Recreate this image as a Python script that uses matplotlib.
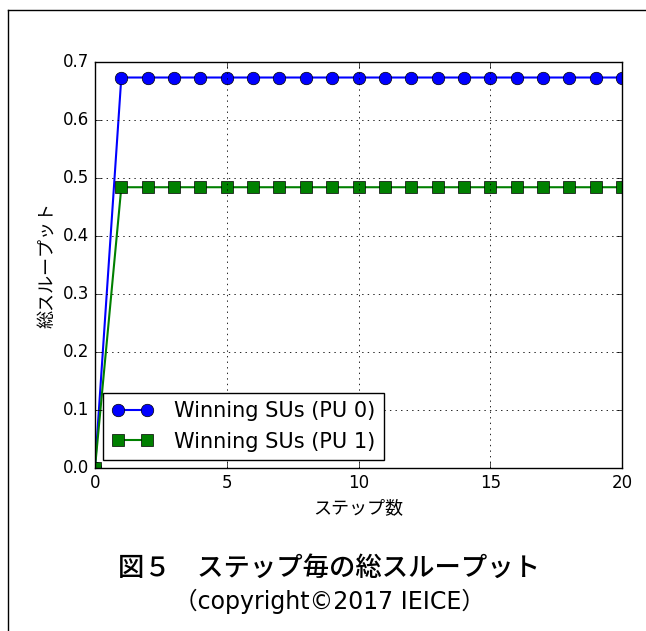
import matplotlib
matplotlib.use("Agg")
import matplotlib.pyplot as plt
from matplotlib.lines import Line2D

plt.style.use("classic")
plt.rcParams["font.family"] = ["DejaVu Sans", "Noto Sans CJK JP"]

# data
steps = list(range(0, 21))
pu0 = [0.0] + [0.673] * 20
pu1 = [0.0] + [0.484] * 20
labels = ["Winning SUs (PU 0)", "Winning SUs (PU 1)"]

fig = plt.figure(figsize=(6.46, 6.31), dpi=100, facecolor="white")
ax = fig.add_axes([0.147, 0.258, 0.816, 0.644])
ax.set_facecolor("white")

ax.plot(steps, pu0, color="blue", marker="o", markersize=9, linewidth=1.5,
        markeredgecolor="black", label=labels[0])
ax.plot(steps, pu1, color="green", marker="s", markersize=8, linewidth=1.5,
        markeredgecolor="black", label=labels[1])

ax.set_xlim(0, 20)
ax.set_ylim(0, 0.7)
ax.set_xticks([0, 5, 10, 15, 20])
ax.set_yticks([0.0, 0.1, 0.2, 0.3, 0.4, 0.5, 0.6, 0.7])
ax.set_yticklabels(["0.0", "0.1", "0.2", "0.3", "0.4", "0.5", "0.6", "0.7"])
ax.tick_params(labelsize=12)
ax.grid(True, linestyle=":", color="black", linewidth=0.6)
ax.set_xlabel("ステップ数", fontsize=13, family=["Noto Sans CJK JP"])
ax.set_ylabel("総スループット", fontsize=13, family=["Noto Sans CJK JP"])

leg = ax.legend(loc="lower left", fontsize=15, numpoints=2, fancybox=False,
                borderaxespad=0.4, handlelength=2.0, handletextpad=1.0)
leg.get_frame().set_edgecolor("black")

# frame around the whole picture (top and left edges)
fig.add_artist(Line2D([8 / 646, 1], [1 - 10 / 631, 1 - 10 / 631], color="black", linewidth=1))
fig.add_artist(Line2D([8 / 646, 8 / 646], [0, 1 - 10 / 631], color="black", linewidth=1))

fig.text(0.51, 1 - 568 / 631, "図５　ステップ毎の総スループット", ha="center", va="center",
         fontsize=19, fontweight="medium", family=["Noto Sans CJK JP"])
fig.text(0.51, 1 - 601 / 631, "（copyright©2017 IEICE）", ha="center", va="center",
         fontsize=17, family=["DejaVu Sans", "Noto Sans CJK JP"])

fig.savefig("out.png", dpi=100, facecolor="white")
